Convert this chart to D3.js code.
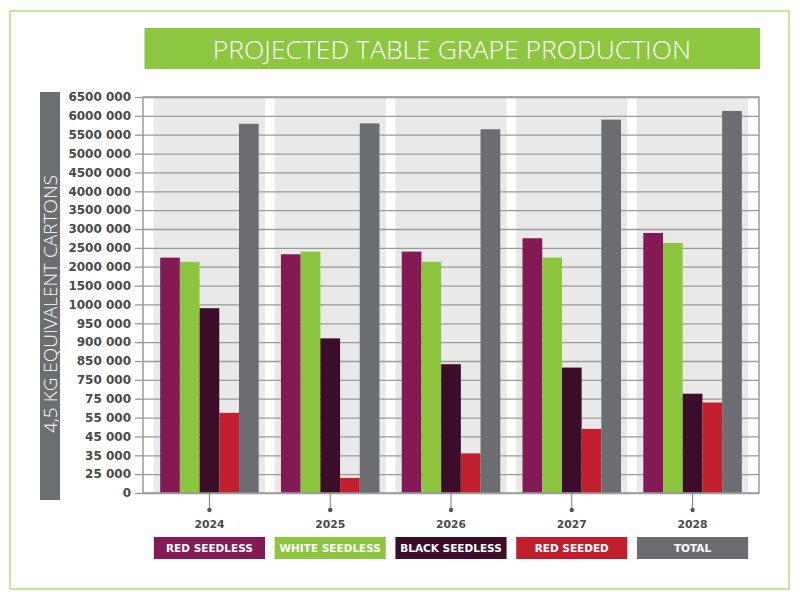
<!DOCTYPE html>
<html>
<head>
<meta charset="utf-8">
<script src="https://cdn.jsdelivr.net/npm/d3@7"></script>
<style>
  body { margin: 0; background: #fff; }
  svg { display: block; }
</style>
</head>
<body>
<script>
var w = 800;
var h = 600;

// data
var years = ["2024", "2025", "2026", "2027", "2028"];
var seriesNames = ["RED SEEDLESS", "WHITE SEEDLESS", "BLACK SEEDLESS", "RED SEEDED", "TOTAL"];
var redSeedless = [2240000, 2330000, 2400000, 2755000, 2895000];
var whiteSeedless = [2130000, 2400000, 2130000, 2240000, 2630000];
var blackSeedless = [990000, 910000, 833000, 815000, 254000];
var redSeeded = [60000, 20000, 36000, 49000, 71000];
var total = [5790000, 5800000, 5645000, 5900000, 6130000];
// the y axis is not linear: every listed tick gets the same spacing
var yTicks = [0, 25000, 35000, 45000, 55000, 75000, 750000, 850000, 900000, 950000,
  1000000, 1500000, 2000000, 2500000, 3000000, 3500000, 4000000, 4500000,
  5000000, 5500000, 6000000, 6500000];

var seriesValues = [redSeedless, whiteSeedless, blackSeedless, redSeeded, total];
var colors = ["#831a55", "#8cc63f", "#3b0d28", "#c11f2e", "#6c6d70"];

var plotLeft = 143, plotRight = 759, plotTop = 97, plotBottom = 493;

var svg = d3.select("body").append("svg").attr("width", w).attr("height", h);

// outer frame
svg.append("rect").attr("x", 10).attr("y", 11).attr("width", 779).attr("height", 578)
  .attr("fill", "none").attr("stroke", "#b4db7c").attr("stroke-width", 1.5);

// title
svg.append("rect").attr("x", 144.5).attr("y", 28).attr("width", 615.5).attr("height", 41)
  .attr("fill", "#8dc63f");
svg.append("text").text("PROJECTED TABLE GRAPE PRODUCTION")
  .attr("x", 452).attr("y", 58.5).attr("text-anchor", "middle")
  .attr("font-family", "'Open Sans', sans-serif").attr("font-weight", 300)
  .attr("font-size", "26.5px").attr("fill", "#fff");

// y label box
svg.append("rect").attr("x", 40).attr("y", 92).attr("width", 20).attr("height", 408)
  .attr("fill", "#6d6e71");
svg.append("text").text("4,5 KG EQUIVALENT CARTONS")
  .attr("transform", "translate(57,304) rotate(-90)")
  .attr("text-anchor", "middle")
  .attr("font-family", "'Open Sans', sans-serif").attr("font-weight", 300)
  .attr("font-size", "19px").attr("fill", "#fff");

//Scales
var x0 = d3.scaleBand().domain(years).range([plotLeft, plotRight]).paddingInner(0.08).paddingOuter(0.09);
var x1 = d3.scaleBand().domain(seriesNames).range([0, x0.bandwidth()]).paddingInner(0).paddingOuter(0.32);

var yRange = yTicks.map(function (d, i) {
  return plotBottom - i * (plotBottom - plotTop) / (yTicks.length - 1);
});
var yScale = d3.scaleLinear().domain(yTicks).range(yRange);

function fmt(d) {
  if (d === 0) return "0";
  var rest = d % 1000;
  return Math.floor(d / 1000) + " " + ("00" + rest).slice(-3);
}

// background bands
svg.append("g").selectAll("rect").data(years).enter().append("rect")
  .attr("x", function (d) { return x0(d); })
  .attr("y", plotTop + 1)
  .attr("width", x0.bandwidth())
  .attr("height", plotBottom - plotTop - 1)
  .attr("fill", "#e9e9ea");

// tick labels
var yAxis = svg.append("g")
  .attr("transform", "translate(" + plotLeft + ",0)")
  .call(d3.axisLeft(yScale).tickValues(yTicks).tickFormat(fmt).tickSize(8).tickPadding(4));
yAxis.select(".domain").remove();
yAxis.selectAll("line").attr("stroke", "#9a9a9a").attr("stroke-width", 1.3);
yAxis.selectAll("text")
  .attr("font-family", "'DejaVu Sans', Verdana, sans-serif")
  .attr("font-weight", "bold").attr("font-size", "12px").attr("fill", "#4a4a4a");

// gridlines
var grid = svg.append("g").attr("transform", "translate(" + plotLeft + ",0)")
  .call(d3.axisRight(yScale).tickValues(yTicks).tickFormat("").tickSize(plotRight - plotLeft));
grid.select(".domain").remove();
grid.selectAll("line").attr("stroke", "#9a9a9a").attr("stroke-width", 1.3);

//Create bars
var groups = svg.append("g").selectAll("g").data(years).enter().append("g")
  .attr("transform", function (d) { return "translate(" + x0(d) + ",0)"; });

groups.selectAll("rect")
  .data(function (d, i) {
    return seriesNames.map(function (s, j) {
      return { key: s, value: seriesValues[j][i], color: colors[j] };
    });
  })
  .enter().append("rect")
  .attr("x", function (d) { return x1(d.key); })
  .attr("y", function (d) { return yScale(d.value); })
  .attr("width", x1.bandwidth())
  .attr("height", function (d) { return plotBottom - yScale(d.value); })
  .attr("fill", function (d) { return d.color; });

// frame of the plot
svg.append("path")
  .attr("d", "M" + plotLeft + "," + plotTop + "H" + plotRight + "V" + plotBottom + "H" + plotLeft + "Z")
  .attr("fill", "none").attr("stroke", "#9a9a9a").attr("stroke-width", 1.5);

// x axis ticks with dots
var xAxis = svg.append("g").attr("transform", "translate(0," + plotBottom + ")")
  .call(d3.axisBottom(x0).tickSize(17).tickPadding(10));
xAxis.select(".domain").remove();
xAxis.selectAll("line").attr("stroke", "#777").attr("stroke-width", 1);
xAxis.selectAll(".tick").append("circle").attr("cy", 17).attr("r", 2.2).attr("fill", "#555");
xAxis.selectAll("text")
  .attr("font-family", "'DejaVu Sans', Verdana, sans-serif")
  .attr("font-weight", "bold").attr("font-size", "10.8px").attr("fill", "#4a4a4a");

//Legend
var legend = svg.append("g").selectAll("g").data(seriesNames).enter().append("g")
  .attr("transform", function (d, i) { return "translate(" + x0(years[i]) + ",537)"; });
legend.append("rect")
  .attr("width", x0.bandwidth()).attr("height", 22)
  .attr("fill", function (d, i) { return colors[i]; });
legend.append("text").text(function (d) { return d; })
  .attr("x", x0.bandwidth() / 2).attr("y", 15)
  .attr("text-anchor", "middle")
  .attr("font-family", "'DejaVu Sans', Verdana, sans-serif")
  .attr("font-weight", "bold").attr("font-size", "10.5px").attr("fill", "#fff");
</script>
</body>
</html>
